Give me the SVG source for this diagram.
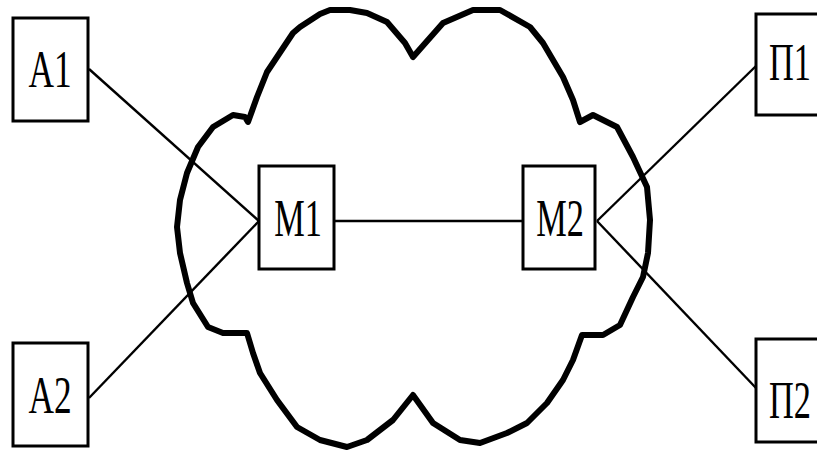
<svg xmlns="http://www.w3.org/2000/svg" width="817" height="450" viewBox="0 0 817 450">
<style>
.box{fill:#fff;stroke:#000;stroke-width:3}
.lbl{font-family:"Liberation Serif","Times New Roman",serif;font-size:52px;fill:#000;text-anchor:middle}
.con{stroke:#000;stroke-width:2.4;fill:none}
.cloud{fill:none;stroke:#000;stroke-width:6;stroke-linejoin:round}
</style>
<rect width="817" height="450" fill="#fff"/>
<g id="cloud">
<path class="cloud" d="M413,57 L405,43 L387,22 L367,13 L350,10 L330,10 L320,14 L300,27 L293,33 L267,72 L257,97 L248,122 L245,117 L233,115 L213,127 L198,147 L187,173 L180,200 L177,227 L180,253 L187,283 L193,303 L208,327 L223,333 L247,333 L253,353 L260,373 L277,400 L297,427 L320,440 L347,447 L367,440 L393,420 L413,395 L433,423 L460,440 L480,443 L507,433 L527,423 L547,403 L563,380 L573,360 L582,335 L603,335 L620,325 L633,297 L643,277 L648,253 L650,220 L647,187 L633,157 L617,127 L593,115 L580,122 L573,100 L563,77 L543,43 L530,27 L500,10 L473,10 L443,23 Z"/>
</g>
<g id="connectors">
<line class="con" x1="89" y1="69" x2="259" y2="221"/>
<line class="con" x1="89" y1="398" x2="259" y2="221"/>
<line class="con" x1="334" y1="221" x2="523" y2="221"/>
<line class="con" x1="597" y1="221" x2="756" y2="66"/>
<line class="con" x1="597" y1="221" x2="756" y2="388"/>
</g>
<g id="A1">
<rect class="box" x="13" y="18" width="75" height="103"/>
<text class="lbl" transform="translate(50,87) scale(0.68,1)">A1</text>
</g>
<g id="A2">
<rect class="box" x="13" y="343" width="75" height="103"/>
<text class="lbl" transform="translate(50,413) scale(0.68,1)">A2</text>
</g>
<g id="M1">
<rect class="box" x="259" y="166" width="75" height="103"/>
<text class="lbl" transform="translate(298,236) scale(0.66,1)">M1</text>
</g>
<g id="M2">
<rect class="box" x="523" y="166" width="72" height="103"/>
<text class="lbl" transform="translate(560,236) scale(0.66,1)">M2</text>
</g>
<g id="P1">
<path class="box" d="M817,14 H756 V115 H817"/>
<text class="lbl" transform="translate(790,80) scale(0.66,1)">П1</text>
</g>
<g id="P2">
<path class="box" d="M817,339 H756 V442 H817"/>
<text class="lbl" transform="translate(790,418) scale(0.66,1)">П2</text>
</g>
</svg>
